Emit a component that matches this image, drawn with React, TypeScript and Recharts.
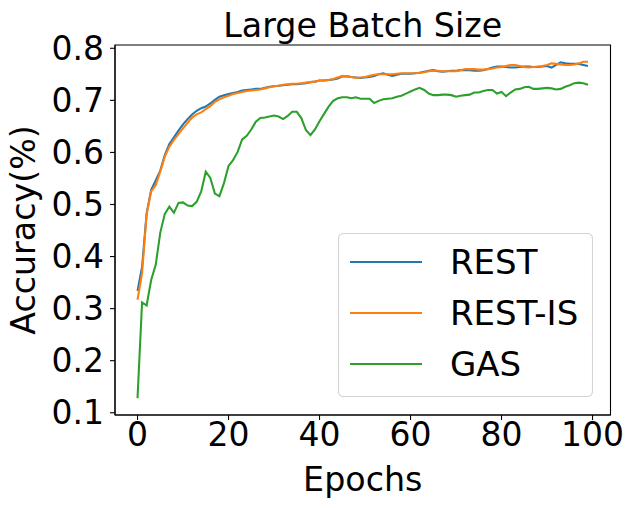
import React from "react";
import { LineChart, Line, XAxis, YAxis, Legend, ReferenceArea } from "recharts";

const epochs = [
  0, 1, 2, 3, 4, 5, 6, 7, 8, 9, 10, 11, 12, 13, 14, 15, 16, 17, 18, 19,
  20, 21, 22, 23, 24, 25, 26, 27, 28, 29, 30, 31, 32, 33, 34, 35, 36, 37, 38, 39,
  40, 41, 42, 43, 44, 45, 46, 47, 48, 49, 50, 51, 52, 53, 54, 55, 56, 57, 58, 59,
  60, 61, 62, 63, 64, 65, 66, 67, 68, 69, 70, 71, 72, 73, 74, 75, 76, 77, 78, 79,
  80, 81, 82, 83, 84, 85, 86, 87, 88, 89, 90, 91, 92, 93, 94, 95, 96, 97, 98, 99,
];

const rest = [
  0.334, 0.38, 0.483, 0.528, 0.546, 0.565, 0.595, 0.616, 0.629, 0.642,
  0.654, 0.664, 0.673, 0.68, 0.685, 0.688, 0.694, 0.701, 0.707, 0.71,
  0.712, 0.714, 0.716, 0.719, 0.72, 0.721, 0.722, 0.722, 0.724, 0.726,
  0.727, 0.728, 0.729, 0.73, 0.731, 0.731, 0.732, 0.733, 0.735, 0.736,
  0.738, 0.738, 0.739, 0.74, 0.742, 0.746, 0.746, 0.745, 0.744, 0.743,
  0.744, 0.745, 0.747, 0.75, 0.752, 0.749, 0.747, 0.749, 0.751, 0.751,
  0.751, 0.752, 0.753, 0.755, 0.757, 0.758, 0.756, 0.755, 0.756, 0.757,
  0.757, 0.758, 0.758, 0.758, 0.757, 0.757, 0.758, 0.76, 0.763, 0.765,
  0.765, 0.764, 0.763, 0.763, 0.764, 0.765, 0.765, 0.764, 0.764, 0.765,
  0.766, 0.763, 0.768, 0.773, 0.771, 0.77, 0.77, 0.77, 0.768, 0.766,
];

const restIS = [
  0.317, 0.368, 0.481, 0.525, 0.537, 0.563, 0.592, 0.611, 0.624, 0.635,
  0.646, 0.657, 0.667, 0.673, 0.677, 0.683, 0.689, 0.697, 0.702, 0.706,
  0.709, 0.712, 0.714, 0.716, 0.718, 0.719, 0.72, 0.721, 0.723, 0.725,
  0.727, 0.728, 0.73, 0.731, 0.732, 0.732, 0.733, 0.734, 0.735, 0.736,
  0.738, 0.738, 0.739, 0.741, 0.744, 0.747, 0.746, 0.745, 0.743, 0.744,
  0.745, 0.747, 0.749, 0.75, 0.75, 0.75, 0.75, 0.751, 0.752, 0.752,
  0.752, 0.752, 0.753, 0.754, 0.756, 0.757, 0.757, 0.756, 0.756, 0.756,
  0.756, 0.758, 0.76, 0.76, 0.76, 0.759, 0.759, 0.76, 0.761, 0.763,
  0.764, 0.766, 0.768, 0.768, 0.766, 0.764, 0.763, 0.764, 0.765, 0.766,
  0.768, 0.771, 0.77, 0.769, 0.768, 0.768, 0.769, 0.771, 0.774, 0.774,
];

const gas = [
  0.128, 0.312, 0.306, 0.355, 0.384, 0.446, 0.482, 0.496, 0.484, 0.503,
  0.504, 0.498, 0.497, 0.505, 0.525, 0.563, 0.551, 0.521, 0.516, 0.541,
  0.574, 0.585, 0.601, 0.625, 0.632, 0.644, 0.659, 0.666, 0.667, 0.669,
  0.671, 0.669, 0.664, 0.67, 0.678, 0.678, 0.666, 0.643, 0.633, 0.644,
  0.66, 0.674, 0.688, 0.699, 0.704, 0.706, 0.706, 0.704, 0.706, 0.703,
  0.703, 0.703, 0.695, 0.699, 0.702, 0.703, 0.704, 0.707, 0.709, 0.713,
  0.717, 0.721, 0.724, 0.72, 0.713, 0.71, 0.71, 0.711, 0.711, 0.71,
  0.707, 0.709, 0.71, 0.711, 0.715, 0.715, 0.718, 0.72, 0.72, 0.713,
  0.716, 0.708, 0.715, 0.721, 0.722, 0.725, 0.726, 0.722, 0.722, 0.723,
  0.724, 0.723, 0.721, 0.722, 0.726, 0.729, 0.733, 0.734, 0.733, 0.73,
];

const xTicks = [0, 20, 40, 60, 80, 100];
const yTicks = [0.1, 0.2, 0.3, 0.4, 0.5, 0.6, 0.7, 0.8];
const seriesNames = ["REST", "REST-IS", "GAS"];

const rows = epochs.map((e, i) => ({
  epoch: e,
  rest: rest[i],
  restIS: restIS[i],
  gas: gas[i],
}));

const FONT = "DejaVu Sans";
const TICK_FS = 33;
const LABEL_FS = 33.3;
const LEGEND_FS = 34;

const LegendBox = (props: any) => {
  const payload = [...(props.payload || [])].sort(
    (a: any, b: any) => seriesNames.indexOf(a.value) - seriesNames.indexOf(b.value)
  );
  return (
    <svg width={255} height={164} style={{ display: "block" }}>
      <rect x={0.5} y={0.5} width={254} height={163} rx={5} ry={5} fill="rgba(255,255,255,0.8)" stroke="#d4d4d4" strokeWidth={1.1} />
      {payload.map((p: any, i: number) => {
        const cy = 29 + 51 * i;
        return (
          <g key={i}>
            <line x1={12} x2={84} y1={cy} y2={cy} stroke={p.color} strokeWidth={2.08} />
            <text x={112} y={cy + LEGEND_FS * 0.364} fontFamily={FONT} fontSize={LEGEND_FS} fill="#000">
              {p.value}
            </text>
          </g>
        );
      })}
    </svg>
  );
};

export default function App() {
  return (
    <div style={{ position: "absolute", left: 0, top: 0, width: 635, height: 508, background: "#fff" }}>
      <LineChart width={635} height={508} data={rows} margin={{ top: 45, right: 24.5, left: 0, bottom: 0 }}>
        <XAxis
          dataKey="epoch"
          type="number"
          domain={[-4.95, 103.95]}
          ticks={xTicks}
          interval={0}
          allowDataOverflow
          height={93}
          tickSize={5}
          tickMargin={3}
          axisLine={{ stroke: "#000", strokeWidth: 1.1 }}
          tickLine={{ stroke: "#000", strokeWidth: 1.1 }}
          tick={{ fontSize: TICK_FS, fill: "#000", fontFamily: FONT }}
          label={{ value: "Epochs", position: "insideBottom", offset: 17, fontSize: LABEL_FS, fill: "#000", fontFamily: FONT }}
        />
        <YAxis
          type="number"
          domain={[0.0957, 0.8063]}
          ticks={yTicks}
          interval={0}
          allowDataOverflow
          width={115}
          tickSize={5}
          tickMargin={6}
          tickFormatter={(v: number) => v.toFixed(1)}
          axisLine={{ stroke: "#000", strokeWidth: 1.1 }}
          tickLine={{ stroke: "#000", strokeWidth: 1.1 }}
          tick={{ fontSize: TICK_FS, fill: "#000", fontFamily: FONT }}
          label={{ value: "Accuracy(%)", angle: -90, position: "insideLeft", offset: 23, fontSize: LABEL_FS, fill: "#000", fontFamily: FONT, style: { textAnchor: "middle" } }}
        />
        <ReferenceArea x1={-4.95} x2={103.95} y1={0.0957} y2={0.8063} fill="none" stroke="#000" strokeWidth={1.1} ifOverflow="visible" />
        <Line dataKey="rest" name={seriesNames[0]} stroke="#1f77b4" strokeWidth={2.08} dot={false} isAnimationActive={false} />
        <Line dataKey="restIS" name={seriesNames[1]} stroke="#ff7f0e" strokeWidth={2.08} dot={false} isAnimationActive={false} />
        <Line dataKey="gas" name={seriesNames[2]} stroke="#2ca02c" strokeWidth={2.08} dot={false} isAnimationActive={false} />
        <Legend
          layout="horizontal"
          verticalAlign="middle"
          align="center"
          content={LegendBox}
          wrapperStyle={{ position: "absolute", left: 338, top: 233, width: 255, height: 164 }}
        />
      </LineChart>
      <svg width={635} height={508} style={{ position: "absolute", left: 0, top: 0, pointerEvents: "none" }}>
        <text x={362.75} y={37} textAnchor="middle" fontFamily={FONT} fontSize={33.3} fill="#000">
          Large Batch Size
        </text>
      </svg>
    </div>
  );
}
